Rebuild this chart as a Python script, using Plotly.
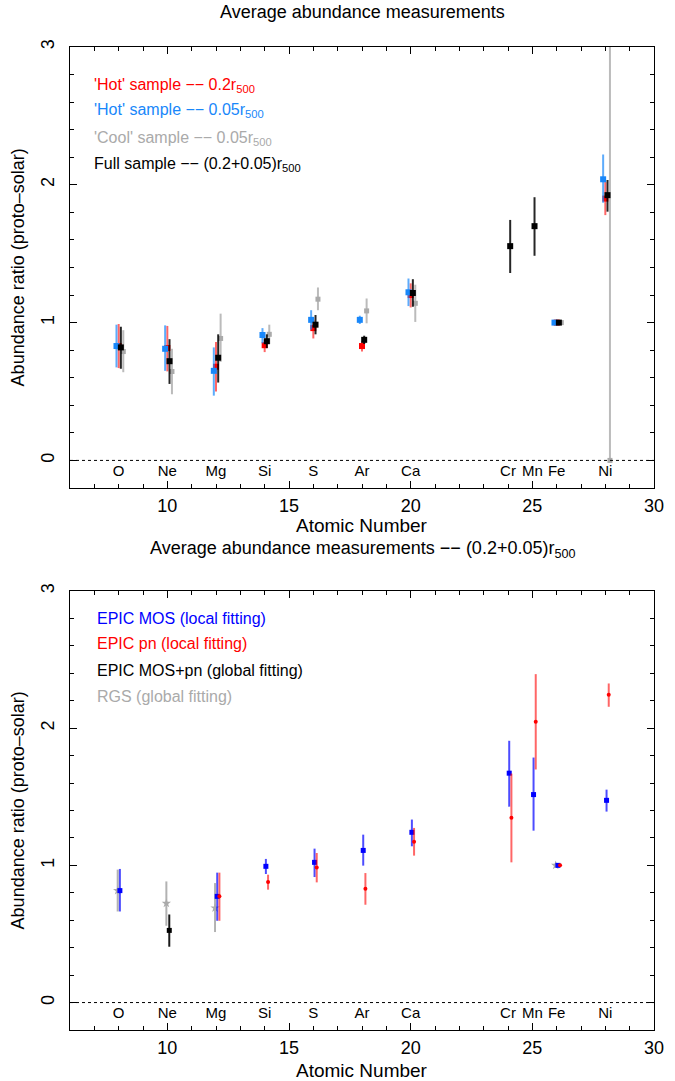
import plotly.graph_objects as go

# ---------------- data ----------------
elements = ["O", "Ne", "Mg", "Si", "S", "Ar", "Ca", "Cr", "Mn", "Fe", "Ni"]
Z = [8, 10, 12, 14, 16, 18, 20, 24, 25, 26, 28]

# Top panel: average abundances (proto-solar)
hot02_val = [0.83, 0.816, 0.68, 0.836, 0.96, 0.83, 1.20, None, None, 1.0, 1.90]
hot02_ep = [0.16, 0.16, 0.18, 0.04, 0.06, 0.035, 0.085, None, None, 0.0, 0.12]
hot02_em = [0.16, 0.17, 0.18, 0.05, 0.075, 0.04, 0.09, None, None, 0.0, 0.12]

hot005_val = [0.83, 0.81, 0.65, 0.91, 1.02, 1.02, 1.22, None, None, 1.0, 2.04]
hot005_ep = [0.155, 0.17, 0.17, 0.05, 0.07, 0.03, 0.10, None, None, 0.0, 0.18]
hot005_em = [0.155, 0.16, 0.18, 0.06, 0.07, 0.03, 0.10, None, None, 0.0, 0.17]

cool005_val = [0.79, 0.645, 0.885, 0.915, 1.17, 1.085, 1.14, None, None, 1.0, 0.0]
cool005_ep = [0.155, 0.165, 0.18, 0.07, 0.085, 0.09, 0.135, None, None, 0.0, 3.5]
cool005_em = [0.15, 0.165, 0.17, 0.07, 0.08, 0.09, 0.135, None, None, 0.0, 0.0]

full_val = [0.82, 0.72, 0.745, 0.865, 0.985, 0.875, 1.215, 1.555, 1.70, 1.0, 1.925]
full_ep = [0.15, 0.16, 0.17, 0.05, 0.07, 0.03, 0.10, 0.19, 0.21, 0.0, 0.11]
full_em = [0.155, 0.165, 0.18, 0.05, 0.07, 0.03, 0.10, 0.195, 0.215, 0.0, 0.12]

# Bottom panel: (0.2+0.05) r500, by instrument
mos_val = [0.816, None, 0.774, 0.993, 1.022, 1.109, 1.241, 1.672, 1.516, 1.0, 1.474]
mos_ep = [0.158, None, 0.173, 0.054, 0.10, 0.115, 0.093, 0.236, 0.27, 0.0, 0.078]
mos_em = [0.152, None, 0.178, 0.056, 0.107, 0.111, 0.102, 0.244, 0.263, 0.0, 0.082]

pn_val = [None, None, 0.774, 0.879, 0.985, 0.830, 1.173, 1.348, 2.047, 1.0, 2.244]
pn_ep = [None, None, 0.173, 0.053, 0.105, 0.114, 0.10, 0.321, 0.347, 0.0, 0.082]
pn_em = [None, None, 0.178, 0.056, 0.109, 0.117, 0.102, 0.326, 0.348, 0.0, 0.088]

glob_val = [None, 0.526, None, None, None, None, None, None, None, None, None]
glob_ep = [None, 0.116, None, None, None, None, None, None, None, None, None]
glob_em = [None, 0.119, None, None, None, None, None, None, None, None, None]

rgs_val = [0.816, 0.723, 0.689, None, None, None, None, None, None, 1.0, None]
rgs_ep = [0.153, 0.16, 0.182, None, None, None, None, None, None, 0.0, None]
rgs_em = [0.152, 0.163, 0.175, None, None, None, None, None, None, 0.0, None]

# ---------------- style ----------------
FONT = "Liberation Sans, Arial, Helvetica, sans-serif"
RED = "rgb(255,0,0)"
LBLUE = "rgb(24,135,250)"
BLUE = "rgb(0,0,255)"
GREY = "rgb(170,170,170)"
BLACK = "rgb(0,0,0)"


def rgba(c, a):
    return c.replace("rgb(", "rgba(").replace(")", f",{a})")


fig = go.Figure()


def add_series(val, ep, em, dx, color, symbol, size, xa, ya, ealpha=0.75, ethick=2):
    xs, ys, p, m = [], [], [], []
    for z, v, a, b in zip(Z, val, ep, em):
        if v is None:
            continue
        xs.append(z + dx)
        ys.append(v)
        p.append(a)
        m.append(b)
    fig.add_trace(go.Scatter(
        x=xs, y=ys, mode="markers", xaxis=xa, yaxis=ya,
        marker=dict(symbol=symbol, size=size, color=color, line=dict(width=0)),
        error_y=dict(type="data", array=p, arrayminus=m, symmetric=False,
                     color=rgba(color, ealpha), thickness=ethick, width=0),
        showlegend=False, hoverinfo="skip"))


# top panel
add_series(cool005_val, cool005_ep, cool005_em, 0.19, GREY, "square", 5, "x", "y", ealpha=0.8)
add_series(hot02_val, hot02_ep, hot02_em, 0.0, RED, "square", 6, "x", "y", ealpha=0.6)
add_series(hot005_val, hot005_ep, hot005_em, -0.09, LBLUE, "square", 6, "x", "y", ealpha=0.7)
add_series(full_val, full_ep, full_em, 0.09, BLACK, "square", 6, "x", "y", ealpha=0.85)

# bottom panel
add_series(rgs_val, rgs_ep, rgs_em, -0.04, GREY, "star", 7, "x2", "y2", ealpha=0.9)
add_series(mos_val, mos_ep, mos_em, 0.05, BLUE, "square", 5, "x2", "y2", ealpha=0.7)
add_series(pn_val, pn_ep, pn_em, 0.14, RED, "circle", 4, "x2", "y2", ealpha=0.6)
add_series(glob_val, glob_ep, glob_em, 0.08, BLACK, "square", 5, "x2", "y2", ealpha=0.9)

# element labels
for xa, ya in (("x", "y"), ("x2", "y2")):
    fig.add_trace(go.Scatter(
        x=Z, y=[-0.085] * len(Z), mode="text", text=elements, xaxis=xa, yaxis=ya,
        textfont=dict(family=FONT, size=15, color="black"),
        showlegend=False, hoverinfo="skip"))

# dotted zero lines
for xr, yr in (("x", "y"), ("x2", "y2")):
    fig.add_shape(type="line", xref=xr, yref=yr, x0=6, x1=30, y0=0, y1=0,
                  line=dict(color="black", width=1, dash="dot"))

xcommon = dict(range=[6, 30], tick0=0, dtick=5, ticks="inside", ticklen=7,
               tickcolor="black", showline=True, linecolor="black", linewidth=1,
               mirror="ticks", showgrid=False, zeroline=False,
               tickfont=dict(family=FONT, size=18, color="black"),
               ticklabelstandoff=1,
               minor=dict(dtick=1, tick0=0, ticks="inside", ticklen=4,
                          tickcolor="black", showgrid=False))
ycommon = dict(range=[-0.2, 3], tick0=0, dtick=1, ticks="inside", ticklen=7,
               tickcolor="black", showline=True, linecolor="black", linewidth=1,
               mirror="ticks", showgrid=False, zeroline=False, tickangle=-90,
               tickfont=dict(family=FONT, size=18, color="black"),
               ticklabelstandoff=8,
               minor=dict(dtick=0.2, tick0=0, ticks="inside", ticklen=4,
                          tickcolor="black", showgrid=False))

fig.update_layout(
    width=675, height=1081,
    margin=dict(l=70, r=11, t=47, b=51),
    paper_bgcolor="white", plot_bgcolor="white",
    font=dict(family=FONT, color="black"),
    xaxis=dict(domain=[0, 1], anchor="y", **xcommon),
    yaxis=dict(domain=[0.5514, 1], anchor="x", **ycommon),
    xaxis2=dict(domain=[0, 1], anchor="y2", **xcommon),
    yaxis2=dict(domain=[0, 0.4466], anchor="x2", **ycommon),
)

DASH = "\u2212\u2212"
ann = []
# titles
ann.append(dict(text="Average abundance measurements", x=0.5, y=1.0356,
                font=dict(size=18)))
ann.append(dict(text=f"Average abundance measurements {DASH} (0.2+0.05)r<sub>500</sub>",
                x=0.5, y=0.4893, font=dict(size=18)))
# axis titles
ann.append(dict(text="Atomic Number", x=0.5, y=0.5132, font=dict(size=19)))
ann.append(dict(text="Atomic Number", x=0.5, y=-0.0407, font=dict(size=19)))
ann.append(dict(text="Abundance ratio (proto\u2013solar)", x=-0.0875, y=0.7757,
                textangle=-90, font=dict(size=18)))
ann.append(dict(text="Abundance ratio (proto\u2013solar)", x=-0.0875, y=0.2233,
                textangle=-90, font=dict(size=18)))

# legends (text only)
top_leg = [(f"'Hot' sample {DASH} 0.2r<sub>500</sub>", RED, 0.9613),
           (f"'Hot' sample {DASH} 0.05r<sub>500</sub>", LBLUE, 0.9349),
           (f"'Cool' sample {DASH} 0.05r<sub>500</sub>", GREY, 0.9074),
           (f"Full sample {DASH} (0.2+0.05)r<sub>500</sub>", BLACK, 0.8800)]
bot_leg = [("EPIC MOS (local fitting)", BLUE, 0.4191),
           ("EPIC pn (local fitting)", RED, 0.3927),
           ("EPIC MOS+pn (global fitting)", BLACK, 0.3662),
           ("RGS (global fitting)", GREY, 0.3388)]
for t, c, yy in top_leg:
    ann.append(dict(text=t, x=0.037, y=yy, xanchor="left", font=dict(size=16, color=c)))
for t, c, yy in bot_leg:
    ann.append(dict(text=t, x=0.042, y=yy, xanchor="left", font=dict(size=16, color=c)))

for a in ann:
    a.setdefault("xanchor", "center")
    a["yanchor"] = "middle"
    a["xref"] = "paper"
    a["yref"] = "paper"
    a["showarrow"] = False
    f = a.get("font", {})
    f.setdefault("family", FONT)
    f.setdefault("color", "black")
    a["font"] = f

fig.update_layout(annotations=ann)

fig.write_html("out.html")
